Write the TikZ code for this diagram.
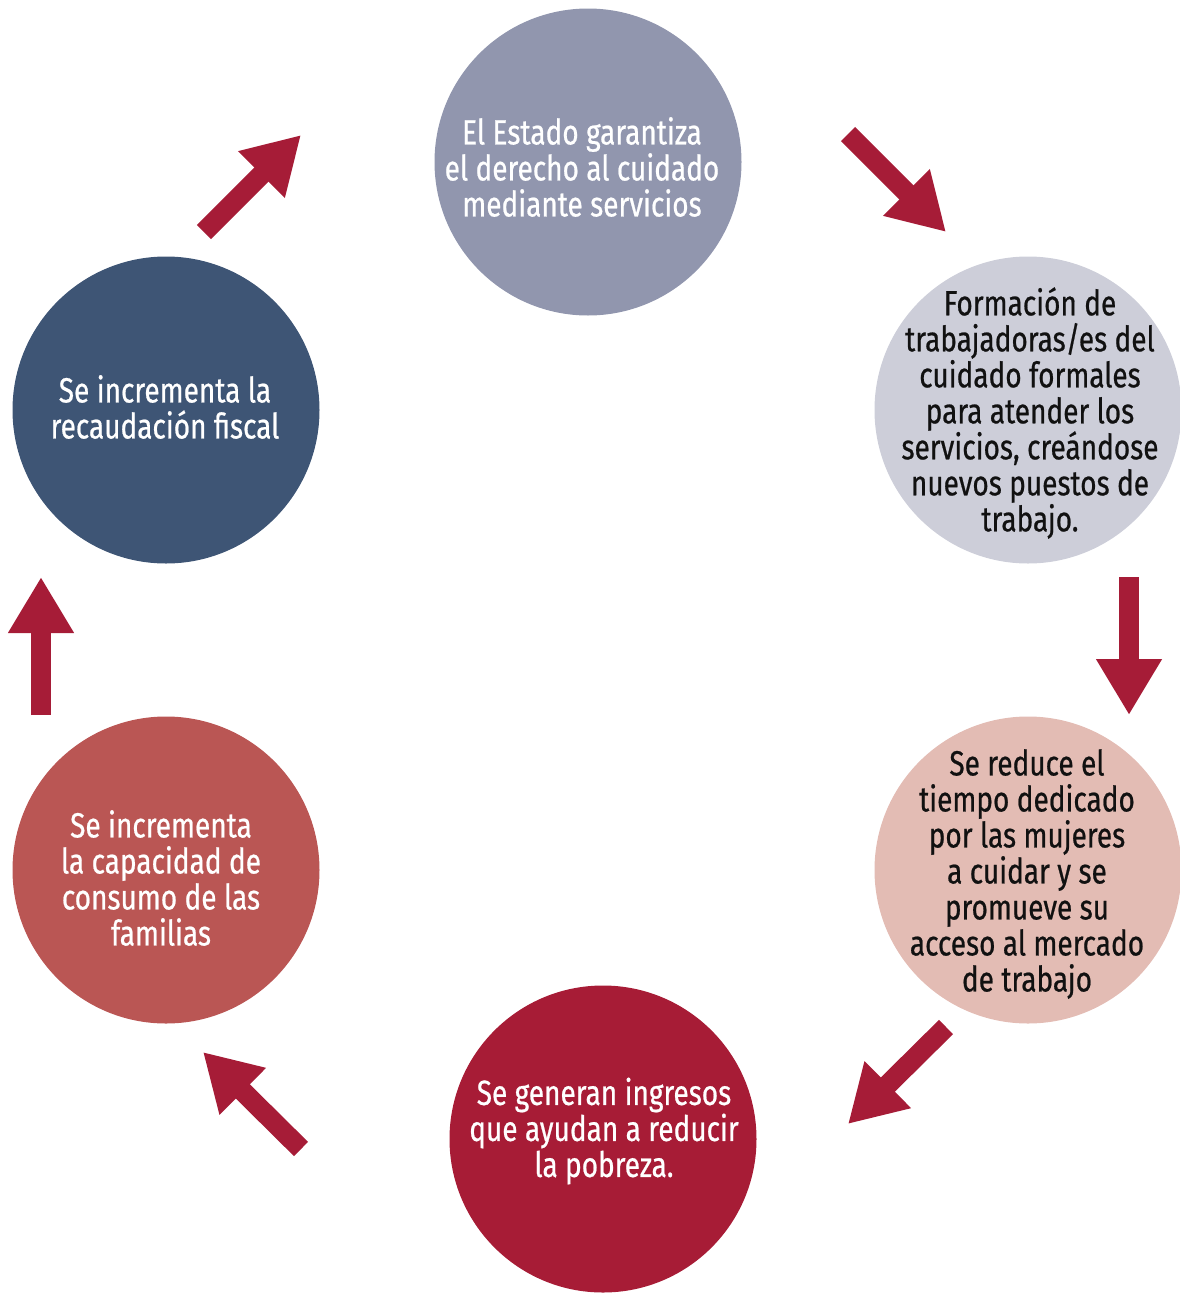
\documentclass[tikz,border=0pt]{standalone}
\usepackage{fontspec}
\setmainfont{Fira Sans}[FakeStretch=0.8,FakeBold=0.6]
\usetikzlibrary{arrows.meta}
\definecolor{cTop}{HTML}{9196AE}
\definecolor{cRU}{HTML}{CDCED9}
\definecolor{cRL}{HTML}{E3BCB4}
\definecolor{cBot}{HTML}{A71C36}
\definecolor{cLL}{HTML}{BA5654}
\definecolor{cLU}{HTML}{3E5575}
\definecolor{arrowred}{HTML}{A61C37}
\definecolor{darktext}{HTML}{111111}
\begin{document}
\begin{tikzpicture}[x=1pt,y=-1pt,
  bubble/.style={circle, minimum size=307pt, inner sep=0pt, draw=none},
  txt/.style={align=center, font=\fontsize{35}{36}\selectfont, inner sep=0pt},
  bigarrow/.style={draw=arrowred, line width=20pt, -{Triangle[length=56pt,width=62pt]}}]
\useasboundingbox (0,0) rectangle (1179,1293);
% circles
\node[bubble, fill=cTop] (c1) at (588,162) {};
\node[bubble, fill=cRU]  (c2) at (1028,410) {};
\node[bubble, fill=cRL]  (c3) at (1028,870) {};
\node[bubble, fill=cBot] (c4) at (603,1139) {};
\node[bubble, fill=cLL]  (c5) at (166,870) {};
\node[bubble, fill=cLU]  (c6) at (166,410) {};
% texts
\node[txt, text=white] (t1) at (582,167) {El Estado garantiza\\el derecho al cuidado\\mediante servicios};
\node[txt, text=darktext] (t2) at (1030,413) {Formación de\\trabajadoras/es del\\cuidado formales\\para atender los\\servicios, creándose\\nuevos puestos de\\trabajo.};
\node[txt, text=darktext] (t3) at (1027,874) {Se reduce el\\tiempo dedicado\\por las mujeres\\a cuidar y se\\promueve su\\acceso al mercado\\de trabajo};
\node[txt, text=white] (t4) at (604,1131) {Se generan ingresos\\que ayudan a reducir\\la pobreza.};
\node[txt, text=white] (t5) at (161,878) {Se incrementa\\la capacidad de\\consumo de las\\familias};
\node[txt, text=white] (t6) at (165,407) {Se incrementa la\\recaudación fiscal};
% arrow end points
\coordinate (a1s) at (204,232); \coordinate (a1e) at (301,135);
\coordinate (a2s) at (848,134); \coordinate (a2e) at (946,232);
\coordinate (a3s) at (1129,577); \coordinate (a3e) at (1129,715);
\coordinate (a4s) at (946,1027); \coordinate (a4e) at (848,1124);
\coordinate (a5s) at (301,1149); \coordinate (a5e) at (203,1052);
\coordinate (a6s) at (41,715); \coordinate (a6e) at (41,577);
\draw[bigarrow] (a1s) -- (a1e);
\draw[bigarrow] (a2s) -- (a2e);
\draw[bigarrow] (a3s) -- (a3e);
\draw[bigarrow] (a4s) -- (a4e);
\draw[bigarrow] (a5s) -- (a5e);
\draw[bigarrow] (a6s) -- (a6e);
\end{tikzpicture}
\end{document}
